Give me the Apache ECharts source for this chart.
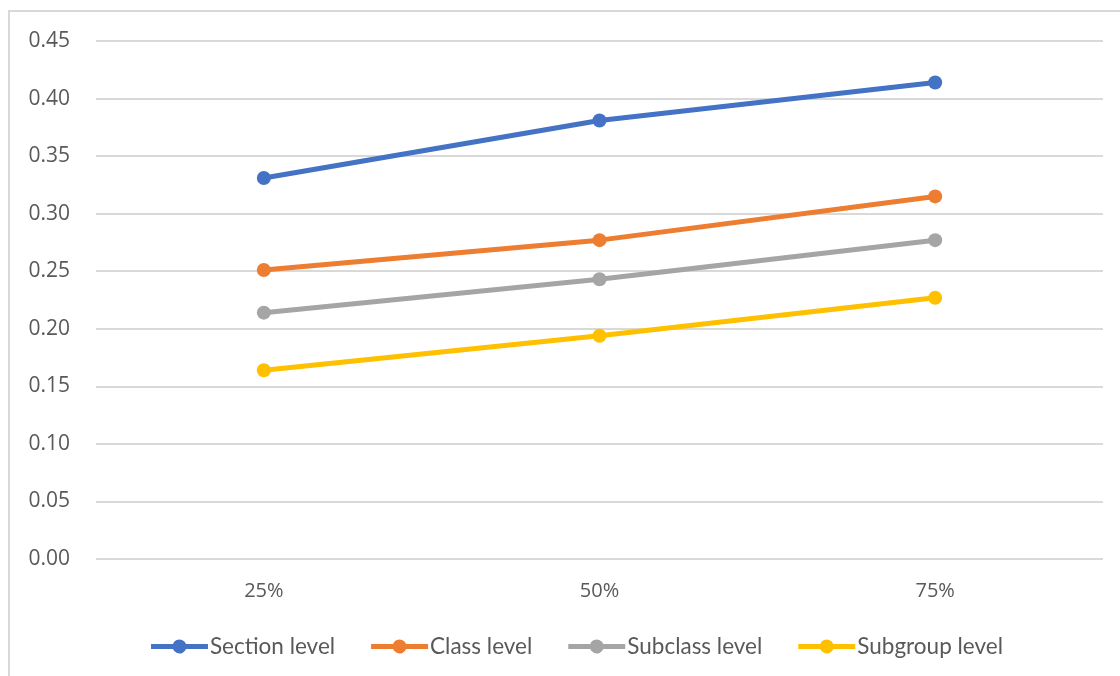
<!DOCTYPE html>
<html>
<head>
<meta charset="utf-8">
<script src="https://cdn.jsdelivr.net/npm/echarts@6/dist/echarts.min.js"></script>
<style>
html,body{margin:0;padding:0;background:#fff;}
#chart{width:1120px;height:676px;}
</style>
</head>
<body>
<div id="chart"></div>
<script>
var categories = ['25%', '50%', '75%'];
var seriesNames = ['Section level', 'Class level', 'Subclass level', 'Subgroup level'];
var sectionLevel = [0.331, 0.381, 0.414];
var classLevel = [0.251, 0.277, 0.315];
var subclassLevel = [0.214, 0.243, 0.277];
var subgroupLevel = [0.164, 0.194, 0.227];
var colors = ['#4472C4', '#ED7D31', '#A5A5A5', '#FFC000'];

var chart = echarts.init(document.getElementById('chart'), null, {renderer: 'canvas'});
var dataSets = [sectionLevel, classLevel, subclassLevel, subgroupLevel];
var series = dataSets.map(function (d, i) {
  return {
    name: seriesNames[i],
    type: 'line',
    data: d,
    symbol: 'circle',
    symbolSize: 14,
    lineStyle: {width: 5, color: colors[i]},
    itemStyle: {color: colors[i]},
    emphasis: {disabled: true}
  };
});

var legendIcon = 'path://M0,4.5L21.96,4.5A7,7 0 0,1 35.04,4.5L57,4.5L57,9.5L35.04,9.5A7,7 0 0,1 21.96,9.5L0,9.5Z';

chart.setOption({
  animation: false,
  color: colors,
  graphic: [{
    type: 'rect',
    shape: {x: 9, y: 11, width: 1130, height: 700},
    style: {fill: 'none', stroke: '#d9d9d9', lineWidth: 2},
    silent: true
  }],
  grid: {left: 96, right: 17, top: 41, bottom: 117},
  legend: {
    data: seriesNames.map(function (n, i) {
      return {name: n, icon: legendIcon, itemStyle: {color: colors[i]}};
    }),
    left: 146,
    top: 630,
    itemWidth: 57,
    itemHeight: 14,
    itemGap: 36,
    textStyle: {fontFamily: 'Lato', fontSize: 22.5, color: '#595959', padding: [0, 0, 0, -3]}
  },
  xAxis: {
    type: 'category',
    data: categories,
    boundaryGap: true,
    axisLine: {show: false},
    axisTick: {show: false},
    axisLabel: {fontFamily: 'Open Sans', fontSize: 20, color: '#595959', margin: 22}
  },
  yAxis: {
    type: 'value',
    min: 0,
    max: 0.45,
    interval: 0.05,
    axisLine: {show: false},
    axisTick: {show: false},
    splitLine: {lineStyle: {color: '#d9d9d9', width: 2}},
    axisLabel: {
      fontFamily: 'Open Sans', fontSize: 21, color: '#595959', margin: 26,
      formatter: function (v) { return v.toFixed(2); }
    }
  },
  series: series
});
</script>
</body>
</html>
